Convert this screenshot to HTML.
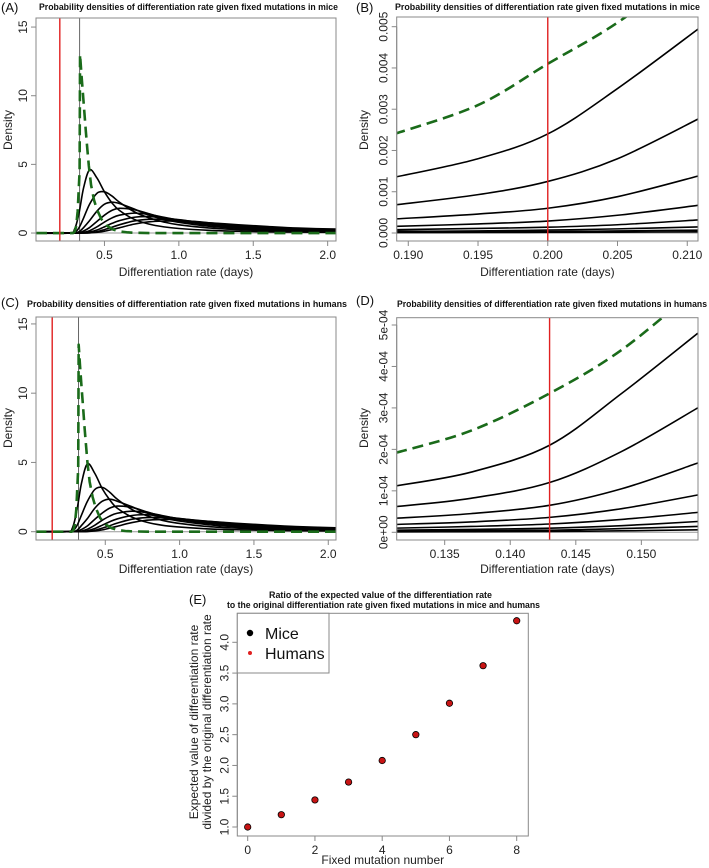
<!DOCTYPE html>
<html><head><meta charset="utf-8">
<style>
html,body{margin:0;padding:0;background:#fff;}
svg{display:block;font-family:"Liberation Sans",Arial,sans-serif;}
</style></head>
<body>
<svg id="fig" width="709" height="868" viewBox="0 0 709 868" xmlns="http://www.w3.org/2000/svg"></svg>
<script>
// ---------- Panel A data (mice, full range) ----------
const aX = [0.04,0.26,0.30,0.33,0.36,0.40,0.45,0.50,0.55,0.60,0.70,0.80,0.90,1.00,1.20,1.40,1.60,1.80,2.08];
const aC1 = [0,0,0.3,1.5,3.3,4.6,4.0,3.0,2.2,1.65,1.0,0.65,0.45,0.33,0.2,0.13,0.09,0.07,0.05];
const aC2 = [0,0,0.05,0.4,1.1,2.1,2.9,3.0,2.7,2.25,1.55,1.1,0.8,0.6,0.37,0.25,0.17,0.13,0.09];
const aC3 = [0,0,0,0.1,0.4,0.9,1.6,2.1,2.25,2.15,1.75,1.3,1.0,0.78,0.5,0.34,0.24,0.18,0.13];
const aC4 = [0,0,0,0.03,0.15,0.4,0.85,1.3,1.65,1.8,1.7,1.4,1.1,0.88,0.6,0.42,0.3,0.22,0.16];
const aC5 = [0,0,0,0,0.05,0.17,0.45,0.8,1.1,1.3,1.45,1.35,1.15,0.95,0.67,0.48,0.35,0.26,0.19];
const aC6 = [0,0,0,0,0.02,0.07,0.22,0.45,0.7,0.9,1.15,1.2,1.1,0.97,0.72,0.53,0.4,0.3,0.22];
const aC7 = [0,0,0,0,0,0.03,0.1,0.25,0.42,0.6,0.88,1.0,1.0,0.95,0.75,0.57,0.44,0.33,0.25];
const aC8 = [0,0,0,0,0,0.01,0.05,0.13,0.25,0.38,0.65,0.82,0.87,0.87,0.75,0.6,0.47,0.36,0.28];
const aGreenX = [0.04,0.29,0.30,0.31,0.32,0.333,0.336,0.345,0.355,0.365,0.375,0.385,0.395,0.41,0.43,0.45,0.48,0.52,0.56,0.60,0.65,0.70,0.80,2.08];
const aGreenY = [0,0,0.1,0.5,1.6,4.5,13,11.6,10.2,8.8,7.4,6.1,4.9,3.5,2.4,1.7,1.0,0.5,0.25,0.12,0.05,0.02,0,0];
const aRed = 0.2, aGray = 0.333;

// ---------- Panel C data (humans, full range) ----------
const cX = [0.03,0.24,0.28,0.31,0.34,0.38,0.43,0.48,0.53,0.58,0.68,0.78,0.88,0.98,1.18,1.38,1.58,1.78,2.06];
const cC1 = [0,0,0.3,1.6,3.5,4.9,4.2,3.1,2.3,1.7,1.05,0.68,0.47,0.35,0.21,0.14,0.1,0.07,0.05];
const cC2 = [0,0,0.05,0.45,1.2,2.2,3.05,3.2,2.85,2.35,1.6,1.15,0.83,0.62,0.38,0.26,0.18,0.13,0.09];
const cC3 = [0,0,0,0.1,0.45,0.95,1.7,2.2,2.35,2.2,1.8,1.35,1.03,0.8,0.52,0.35,0.25,0.18,0.13];
const cC4 = [0,0,0,0.03,0.16,0.42,0.9,1.35,1.7,1.85,1.75,1.43,1.12,0.9,0.61,0.43,0.31,0.22,0.16];
const cC5 = [0,0,0,0,0.05,0.18,0.47,0.83,1.13,1.33,1.48,1.37,1.17,0.96,0.68,0.49,0.36,0.26,0.19];
const cC6 = [0,0,0,0,0.02,0.07,0.23,0.47,0.72,0.92,1.17,1.22,1.12,0.98,0.73,0.54,0.41,0.3,0.22];
const cC7 = [0,0,0,0,0,0.03,0.1,0.26,0.43,0.62,0.9,1.02,1.02,0.96,0.76,0.58,0.45,0.34,0.25];
const cC8 = [0,0,0,0,0,0.01,0.05,0.13,0.26,0.39,0.66,0.83,0.88,0.88,0.76,0.61,0.48,0.37,0.28];
const cGreenX = [0.03,0.275,0.285,0.295,0.305,0.318,0.321,0.33,0.34,0.35,0.36,0.37,0.38,0.395,0.415,0.435,0.465,0.505,0.545,0.585,0.635,0.685,0.785,2.06];
const cGreenY = [0,0,0.1,0.5,1.6,4.6,13.5,12.0,10.5,9.1,7.6,6.3,5.0,3.6,2.5,1.75,1.0,0.5,0.25,0.12,0.05,0.02,0,0];
const cRed = 0.143, cGray = 0.32;

// ---------- Panel B data (mice, zoom) ----------
const bX = [0.189,0.195,0.200,0.205,0.211];
const bGreen = [0.0024,0.0031,0.0041,0.0051,0.0066];
const bC1 = [0.00135,0.0018,0.0024,0.0035,0.0050];
const bC2 = [0.00068,0.00093,0.00125,0.0018,0.0028];
const bC3 = [0.00034,0.00046,0.0006,0.00088,0.0014];
const bC4 = [0.00016,0.00022,0.00029,0.00043,0.00068];
const bC5 = [0.00008,0.00011,0.00014,0.0002,0.00032];
const bC6 = [0.00004,0.00005,0.00007,0.0001,0.00015];
const bC7 = [0.00002,0.000025,0.000035,0.00005,0.00007];
const bC8 = [0.00001,0.000012,0.000015,0.00002,0.00003];
const bRed = 0.2;
const bYTicks = ["0.000","0.001","0.002","0.003","0.004","0.005"];
const bXTicks = ["0.190","0.195","0.200","0.205","0.210"];

// ---------- Panel D data (humans, zoom) ----------
const dX = [0.1313,0.137,0.143,0.1485,0.1543];
const dGreen = [1.92e-4,2.45e-4,3.35e-4,4.4e-4,5.9e-4];
const dC1 = [1.12e-4,1.45e-4,2.1e-4,3.35e-4,4.8e-4];
const dC2 = [0.62e-4,0.82e-4,1.2e-4,1.95e-4,3.0e-4];
const dC3 = [0.34e-4,0.45e-4,0.65e-4,1.05e-4,1.67e-4];
const dC4 = [0.19e-4,0.25e-4,0.36e-4,0.57e-4,0.9e-4];
const dC5 = [0.1e-4,0.14e-4,0.2e-4,0.31e-4,0.48e-4];
const dC6 = [0.05e-4,0.07e-4,0.1e-4,0.16e-4,0.26e-4];
const dC7 = [0.03e-4,0.04e-4,0.05e-4,0.09e-4,0.14e-4];
const dC8 = [0.01e-4,0.015e-4,0.02e-4,0.035e-4,0.06e-4];
const dRed = 0.143;
const dYTicks = ["0e+00","1e-04","2e-04","3e-04","4e-04","5e-04"];
const dXTicks = ["0.135","0.140","0.145","0.150"];

// ---------- Panel E data ----------
const eMutations = [0,1,2,3,4,5,6,7,8];
const eMice = [1.0,1.2,1.44,1.73,2.08,2.5,3.01,3.62,4.35];
const eHumans = [1.0,1.2,1.44,1.73,2.08,2.5,3.01,3.62,4.35];
const eYTicks = ["1.0","1.5","2.0","2.5","3.0","3.5","4.0"];
const eXTicks = ["0","2","4","6","8"];

const NS = "http://www.w3.org/2000/svg";
const svg = document.getElementById('fig');
function mk(tag, attrs, parent){
  const el = document.createElementNS(NS, tag);
  for (const k in attrs) el.setAttribute(k, attrs[k]);
  (parent||svg).appendChild(el);
  return el;
}
function txt(str, attrs, parent){
  const t = mk('text', attrs, parent);
  t.textContent = str;
  return t;
}
function smoothPath(pts){
  let d = 'M' + pts[0][0].toFixed(2) + ',' + pts[0][1].toFixed(2);
  for (let i=0;i<pts.length-1;i++){
    const p0 = pts[Math.max(0,i-1)], p1 = pts[i], p2 = pts[i+1], p3 = pts[Math.min(pts.length-1,i+2)];
    const c1x = p1[0]+(p2[0]-p0[0])/6, c1y = p1[1]+(p2[1]-p0[1])/6;
    const c2x = p2[0]-(p3[0]-p1[0])/6, c2y = p2[1]-(p3[1]-p1[1])/6;
    d += ' C'+c1x.toFixed(2)+','+c1y.toFixed(2)+' '+c2x.toFixed(2)+','+c2y.toFixed(2)+' '+p2[0].toFixed(2)+','+p2[1].toFixed(2);
  }
  return d;
}
function linePath(pts){
  return 'M' + pts.map(p => p[0].toFixed(2)+','+p[1].toFixed(2)).join(' L');
}

function panel(cfg){
  const g = mk('g', {});
  
  
  const sx = v => cfg.L + (v-cfg.xmin)/(cfg.xmax-cfg.xmin)*(cfg.R-cfg.L);
  const sy = v => cfg.B - (v-cfg.ymin)/(cfg.ymax-cfg.ymin)*(cfg.B-cfg.T);
  const clipId = cfg.name + '-clip';
  const defs = mk('defs', {}, g);
  const cp = mk('clipPath', {id: clipId}, defs);
  mk('rect', {x:cfg.L, y:cfg.T, width:cfg.R-cfg.L, height:cfg.B-cfg.T}, cp);
  const plot = mk('g', {'clip-path':'url(#'+clipId+')'}, g);
  
  

  if (cfg.zeroLine){
    const z = mk('line', {x1:cfg.L, x2:cfg.R, y1:sy(0), y2:sy(0), stroke:'#999', 'stroke-width':1}, plot);
    
    
  }
  if (cfg.gray !== undefined){
    const v = mk('line', {x1:sx(cfg.gray), x2:sx(cfg.gray), y1:cfg.T, y2:cfg.B, stroke:'#666', 'stroke-width':1}, plot);
    
    
  }
  cfg.curves.forEach((ys, i) => {
    const pts = cfg.x.map((xv, j) => [sx(xv), sy(ys[j])]);
    const p = mk('path', {d: smoothPath(pts), fill:'none', stroke:'#000', 'stroke-width':1.6}, plot);
    
    
  });
  {
    const pts = cfg.gx.map((xv, j) => [sx(xv), sy(cfg.gy[j])]);
    const d = cfg.linearGreen ? linePath(pts) : smoothPath(pts);
    const p = mk('path', {d: d, fill:'none', stroke:'#1a6b1a', 'stroke-width':2.6, 'stroke-dasharray':'11,6', 'stroke-linejoin':'round'}, plot);
    
    
  }
  if (cfg.red !== undefined){
    const v = mk('line', {x1:sx(cfg.red), x2:sx(cfg.red), y1:cfg.T, y2:cfg.B, stroke:'#e02020', 'stroke-width':1.4}, plot);
    
    
  }
  axes(g, cfg, sx, sy);
}

function axes(g, cfg, sx, sy){
  const box = mk('rect', {x:cfg.L, y:cfg.T, width:cfg.R-cfg.L, height:cfg.B-cfg.T, fill:'none', stroke:'#888', 'stroke-width':1}, g);
  
  
  const xa = mk('g', {}, g);
  
  
  const xv = cfg.xTicks.map(Number);
  mk('line', {x1:sx(xv[0]), x2:sx(xv[xv.length-1]), y1:cfg.B, y2:cfg.B, stroke:'#888'}, xa);
  cfg.xTicks.forEach(lbl => {
    const x = sx(Number(lbl));
    mk('line', {x1:x, x2:x, y1:cfg.B, y2:cfg.B+5, stroke:'#888'}, xa);
    const t = txt(lbl, {x:x, y:cfg.B+18, 'font-size':12, 'text-anchor':'middle', fill:'#222'}, xa);
    
    
  });
  const ya = mk('g', {}, g);
  
  
  const yv = cfg.yTicks.map(Number);
  mk('line', {x1:cfg.L, x2:cfg.L, y1:sy(yv[0]), y2:sy(yv[yv.length-1]), stroke:'#888'}, ya);
  cfg.yTicks.forEach(lbl => {
    const y = sy(Number(lbl));
    mk('line', {x1:cfg.L-5, x2:cfg.L, y1:y, y2:y, stroke:'#888'}, ya);
    const tx = cfg.L - 9;
    const t = txt(lbl, {x:tx, y:y, 'font-size':12, 'text-anchor':'middle', fill:'#222', transform:'rotate(-90 '+tx+' '+y+')'}, ya);
    
    
  });
  const xl = txt(cfg.xLabel, {x:(cfg.L+cfg.R)/2, y:cfg.xLabelY, 'font-size':12, 'text-anchor':'middle', fill:'#222'}, g);
  
  
  cfg.yLabel.forEach((line, i) => {
    const lx = cfg.yLabelX + i*13, ly = cfg.yLabelCY;
    const yl = txt(line, {x:lx, y:ly, 'font-size':12, 'text-anchor':'middle', fill:'#222', transform:'rotate(-90 '+lx+' '+ly+')'}, g);
    
    
  });
  cfg.titles.forEach(tl => {
    const t = txt(tl.s, {x:tl.x, y:tl.y, 'font-size':9.5, 'font-weight':'bold', fill:'#111', textLength:tl.w, lengthAdjust:'spacingAndGlyphs'}, g);
    
    
  });
  const pl = txt(cfg.letter, {x:cfg.letterX, y:cfg.letterY, 'font-size':13, fill:'#111'}, g);
  
  
}

const mTitle = "Probability densities of differentiation rate given fixed mutations in mice";
const hTitle = "Probability densities of differentiation rate given fixed mutations in humans";
const xLab = "Differentiation rate (days)";

panel({name:'panel-a', L:36, R:336, T:18, B:241, xmin:0.04, xmax:2.056, ymin:-0.58, ymax:15.66,
  x:aX, curves:[aC1,aC2,aC3,aC4,aC5,aC6,aC7,aC8], gx:aGreenX, gy:aGreenY, linearGreen:true, red:aRed, gray:aGray, zeroLine:true,
  xTicks:["0.5","1.0","1.5","2.0"], yTicks:["0","5","10","15"], xLabel:xLab, xLabelY:276, yLabel:["Density"], yLabelX:12, yLabelCY:130,
  titles:[{s:mTitle, x:39, y:10, w:299}], letter:'(A)', letterX:1, letterY:12});

panel({name:'panel-b', L:396.7, R:698, T:17, B:241, xmin:0.18917, xmax:0.21077, ymin:-0.000194, ymax:0.005235,
  x:bX, curves:[bC1,bC2,bC3,bC4,bC5,bC6,bC7,bC8], gx:bX, gy:bGreen, red:bRed, zeroLine:true,
  xTicks:bXTicks, yTicks:bYTicks, xLabel:xLab, xLabelY:276, yLabel:["Density"], yLabelX:368, yLabelCY:130,
  titles:[{s:mTitle, x:395, y:10, w:305}], letter:'(B)', letterX:356, letterY:12});

panel({name:'panel-c', L:36, R:336, T:317, B:540, xmin:0.034, xmax:2.052, ymin:-0.6, ymax:15.5,
  x:cX, curves:[cC1,cC2,cC3,cC4,cC5,cC6,cC7,cC8], gx:cGreenX, gy:cGreenY, linearGreen:true, red:cRed, gray:cGray, zeroLine:true,
  xTicks:["0.5","1.0","1.5","2.0"], yTicks:["0","5","10","15"], xLabel:xLab, xLabelY:573, yLabel:["Density"], yLabelX:12, yLabelCY:428,
  titles:[{s:hTitle, x:27, y:307, w:320}], letter:'(C)', letterX:1, letterY:307});

panel({name:'panel-d', L:396.7, R:698, T:317.7, B:540, xmin:0.13134, xmax:0.15432, ymin:-1.86e-5, ymax:5.176e-4,
  x:dX, curves:[dC1,dC2,dC3,dC4,dC5,dC6,dC7,dC8], gx:dX, gy:dGreen, red:dRed, zeroLine:true,
  xTicks:dXTicks, yTicks:dYTicks, xLabel:xLab, xLabelY:573, yLabel:["Density"], yLabelX:368, yLabelCY:428,
  titles:[{s:hTitle, x:397, y:307, w:310}], letter:'(D)', letterX:356, letterY:305});

// ---------- Panel E ----------
(function(){
  const cfg = {name:'panel-e', L:237.3, R:528.3, T:613.3, B:836, xmin:-0.309, xmax:8.345, ymin:0.854, ymax:4.471,
    xTicks:eXTicks, yTicks:eYTicks, xLabel:"Fixed mutation number", xLabelY:864,
    yLabel:["Expected value of differentiation rate","divided by the original differentiation rate"], yLabelX:198, yLabelCY:722,
    titles:[{s:"Ratio of the expected value of the differentiation rate", x:269, y:598, w:223},
            {s:"to the original differentiation rate given fixed mutations in mice and humans", x:227, y:608, w:313}],
    letter:'(E)', letterX:189, letterY:604};
  const g = mk('g', {});
  
  
  const sx = v => cfg.L + (v-cfg.xmin)/(cfg.xmax-cfg.xmin)*(cfg.R-cfg.L);
  const sy = v => cfg.B - (v-cfg.ymin)/(cfg.ymax-cfg.ymin)*(cfg.B-cfg.T);
  eMutations.forEach((m, i) => {
    const c = mk('circle', {cx:sx(m), cy:sy(eMice[i]), r:3.6, fill:'#000'}, g);
    
    
    const h = mk('circle', {cx:sx(m), cy:sy(eHumans[i]), r:2.8, fill:'#c81414'}, g);
    
    
  });
  axes(g, cfg, sx, sy);
  const lg = mk('g', {}, g);
  
  
  mk('rect', {x:237.3, y:613.3, width:91.7, height:59.7, fill:'#fff', stroke:'#888'}, lg);
  const d1 = mk('circle', {cx:250, cy:633, r:3.2, fill:'#000'}, lg);
  
  
  const t1 = txt("Mice", {x:265, y:639, 'font-size':16, fill:'#111'}, lg);
  
  
  const d2 = mk('circle', {cx:250, cy:653, r:2, fill:'#e02020'}, lg);
  
  
  const t2 = txt("Humans", {x:265, y:659, 'font-size':16, fill:'#111'}, lg);
  
  
})();
</script>
</body></html>
